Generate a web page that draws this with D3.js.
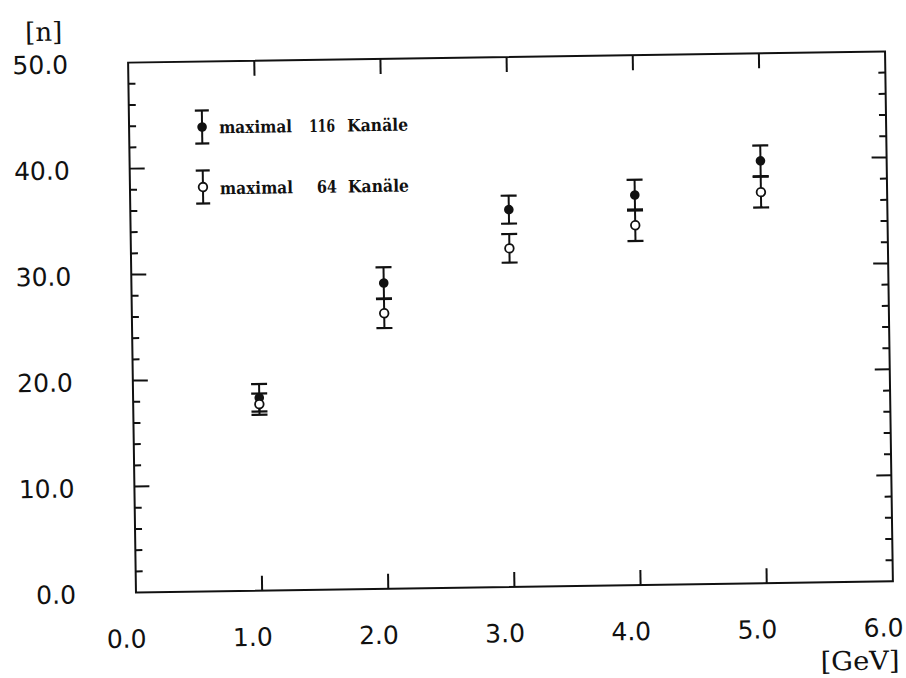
<!DOCTYPE html>
<html>
<head>
<meta charset="utf-8">
<script src="https://cdn.jsdelivr.net/npm/d3@7"></script>
<style>
html,body{margin:0;padding:0;background:#fff;}
svg{display:block;}
</style>
</head>
<body>
<svg id="chart" width="906" height="678"></svg>
<script>
// ---- data ----
const xTickValues = [0, 1, 2, 3, 4, 5, 6];
const xTickLabels = ["0.0", "1.0", "2.0", "3.0", "4.0", "5.0", "6.0"];
const yTickValues = [0, 10, 20, 30, 40, 50];
const yTickLabels = ["0.0", "10.0", "20.0", "30.0", "40.0", "50.0"];
const yMinorValues = [2,4,6,8,12,14,16,18,22,24,26,28,32,34,36,38,42,44,46,48];
const energies = [1, 2, 3, 4, 5];
const max116 = [18.2, 28.85, 35.6, 36.8, 39.85];
const max116Err = [1.3, 1.5, 1.32, 1.45, 1.45];
const max64 = [17.6, 26.0, 31.95, 33.95, 36.9];
const max64Err = [1.0, 1.4, 1.35, 1.48, 1.45];
const legendLabels = [["maximal", "116", "Kanäle"], ["maximal", "64", "Kanäle"]];
const xUnit = "[GeV]";
const yUnit = "[n]";

// ---- layout ----
const L = 132, T = 57, W = 757, H = 530;
const ink = "#111";
const svg = d3.select("#chart");
const g = svg.append("g").attr("transform", "rotate(-0.85,510,322)");

const x = d3.scaleLinear().domain([0, 6]).range([L, L + W]);
const y = d3.scaleLinear().domain([0, 50]).range([T + H, T]);

// frame
g.append("rect").attr("x", L).attr("y", T).attr("width", W).attr("height", H)
  .attr("fill", "none").attr("stroke", ink).attr("stroke-width", 2);

// x ticks (bottom and top)
const xt = xTickValues.slice(1, -1);
g.selectAll(".xtb").data(xt).join("line")
  .attr("x1", d => x(d)).attr("x2", d => x(d))
  .attr("y1", T + H).attr("y2", T + H - 15)
  .attr("stroke", ink).attr("stroke-width", 2);
g.selectAll(".xtt").data(xt).join("line")
  .attr("x1", d => x(d)).attr("x2", d => x(d))
  .attr("y1", T).attr("y2", T + 15)
  .attr("stroke", ink).attr("stroke-width", 2);

// y ticks (left and right)
const yMaj = yTickValues.slice(1, -1);
[[L, 1], [L + W, -1]].forEach(([x0, dir]) => {
  g.append("g").selectAll("line").data(yMaj).join("line")
    .attr("x1", x0).attr("x2", x0 + dir * 15)
    .attr("y1", d => y(d)).attr("y2", d => y(d))
    .attr("stroke", ink).attr("stroke-width", 2);
  g.append("g").selectAll("line").data(yMinorValues).join("line")
    .attr("x1", x0).attr("x2", x0 + dir * 7)
    .attr("y1", d => y(d)).attr("y2", d => y(d))
    .attr("stroke", ink).attr("stroke-width", 2);
});

// tick labels
g.selectAll(".xl").data(xTickValues).join("text")
  .attr("x", d => x(d) - 10).attr("y", 642)
  .attr("text-anchor", "middle")
  .attr("font-family", "DejaVu Sans").attr("font-size", 25).attr("fill", ink)
  .text((d, i) => xTickLabels[i]);
g.selectAll(".yl").data(yTickValues).join("text")
  .attr("x", 72).attr("y", d => y(d) + 1.5)
  .attr("dominant-baseline", "central")
  .attr("text-anchor", "end")
  .attr("font-family", "DejaVu Sans").attr("font-size", 25).attr("fill", ink)
  .text((d, i) => yTickLabels[i]);

// unit labels
g.append("text").attr("x", 48).attr("y", 34).attr("text-anchor", "middle")
  .attr("font-family", "DejaVu Serif").attr("font-size", 26).attr("fill", ink).text(yUnit);
g.append("text").attr("x", 855).attr("y", 675).attr("text-anchor", "middle")
  .attr("font-family", "DejaVu Serif").attr("font-size", 26).attr("fill", ink)
  .attr("textLength", 79).attr("lengthAdjust", "spacingAndGlyphs").text(xUnit);

// error bars and markers
function errorBars(vals, errs) {
  const grp = g.append("g");
  energies.forEach((e, i) => {
    const cx = x(e), y1 = y(vals[i] + errs[i]), y2 = y(vals[i] - errs[i]);
    grp.append("line").attr("x1", cx).attr("x2", cx).attr("y1", y1).attr("y2", y2)
      .attr("stroke", ink).attr("stroke-width", 2);
    [y1, y2].forEach(yy => grp.append("line").attr("x1", cx - 8).attr("x2", cx + 8)
      .attr("y1", yy).attr("y2", yy).attr("stroke", ink).attr("stroke-width", 2.2));
  });
}
errorBars(max116, max116Err);
errorBars(max64, max64Err);

g.append("g").selectAll("circle").data(energies).join("circle")
  .attr("cx", d => x(d)).attr("cy", (d, i) => y(max116[i])).attr("r", 4.8)
  .attr("fill", ink);
g.append("g").selectAll("circle").data(energies).join("circle")
  .attr("cx", d => x(d)).attr("cy", (d, i) => y(max64[i])).attr("r", 4.3)
  .attr("fill", "#fff").attr("stroke", ink).attr("stroke-width", 1.8);

// legend
const legRows = [{cy: 122.5, filled: true, ty: 129, numX: 312}, {cy: 182.5, filled: false, ty: 190, numX: 319}];
legRows.forEach((r, i) => {
  const lx = 205;
  g.append("line").attr("x1", lx).attr("x2", lx).attr("y1", r.cy - 16.5).attr("y2", r.cy + 16.5)
    .attr("stroke", ink).attr("stroke-width", 2);
  [r.cy - 16.5, r.cy + 16.5].forEach(yy => g.append("line").attr("x1", lx - 7).attr("x2", lx + 7)
    .attr("y1", yy).attr("y2", yy).attr("stroke", ink).attr("stroke-width", 2.2));
  g.append("circle").attr("cx", lx).attr("cy", r.cy).attr("r", r.filled ? 4.8 : 4.3)
    .attr("fill", r.filled ? ink : "#fff").attr("stroke", ink).attr("stroke-width", r.filled ? 0 : 1.8);
  const parts = legendLabels[i];
  const txt = (s, xx, len) => g.append("text").attr("x", xx).attr("y", r.ty)
    .attr("font-family", "DejaVu Serif").attr("font-weight", "bold").attr("font-size", 17)
    .attr("fill", ink).attr("textLength", len).attr("lengthAdjust", "spacingAndGlyphs").text(s);
  txt(parts[0], 222, 73);
  txt(parts[1], r.numX, parts[1].length === 3 ? 26 : 20);
  txt(parts[2], 350, 61);
});
</script>
</body>
</html>
